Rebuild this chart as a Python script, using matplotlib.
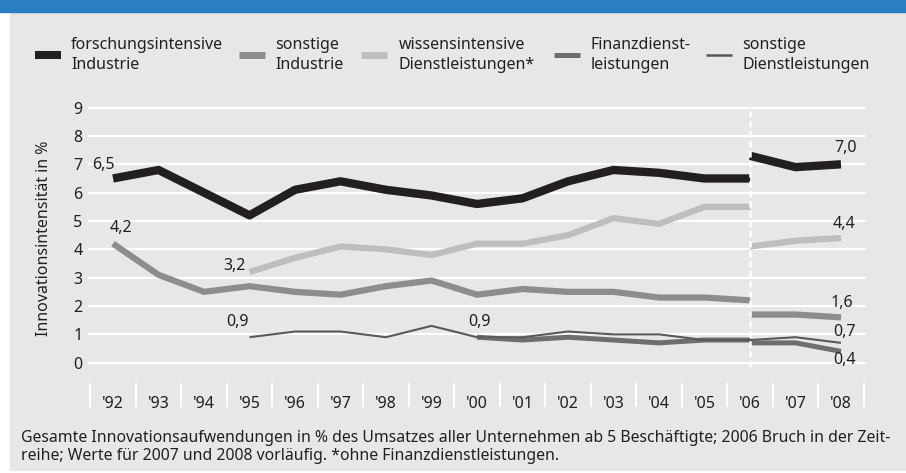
import matplotlib
matplotlib.use('Agg')
import matplotlib.pyplot as plt
from matplotlib.lines import Line2D
from matplotlib.patches import Rectangle
from matplotlib import font_manager

# data
years = ["'92", "'93", "'94", "'95", "'96", "'97", "'98", "'99", "'00",
         "'01", "'02", "'03", "'04", "'05", "'06", "'07", "'08"]

forsch_a = [6.5, 6.8, 6.0, 5.2, 6.1, 6.4, 6.1, 5.9, 5.6, 5.8, 6.4, 6.8, 6.7, 6.5, 6.5]  # '92-'06
forsch_b = [7.3, 6.9, 7.0]                                                              # '06-'08
sonst_ind_a = [4.2, 3.1, 2.5, 2.7, 2.5, 2.4, 2.7, 2.9, 2.4, 2.6, 2.5, 2.5, 2.3, 2.3, 2.2]
sonst_ind_b = [1.7, 1.7, 1.6]
wissen_a = [3.2, 3.7, 4.1, 4.0, 3.8, 4.2, 4.2, 4.5, 5.1, 4.9, 5.5, 5.5]                 # '95-'06
wissen_b = [4.1, 4.3, 4.4]
finanz_a = [0.9, 0.8, 0.9, 0.8, 0.7, 0.8, 0.8]                                          # '00-'06
finanz_b = [0.7, 0.7, 0.4]
sonst_dl = [0.9, 1.1, 1.1, 0.9, 1.3, 0.9, 0.9, 1.1, 1.0, 1.0, 0.8, 0.8, 0.9, 0.7]       # '95-'08

legend_labels = ['forschungsintensive\nIndustrie', 'sonstige\nIndustrie',
                 'wissensintensive\nDienstleistungen*', 'Finanzdienst-\nleistungen',
                 'sonstige\nDienstleistungen']

# value labels: (x index, y position, text)
value_labels = [(-0.2, 6.98, '6,5'), (0.17, 4.75, '4,2'), (2.66, 3.42, '3,2'),
                (2.73, 1.45, '0,9'), (8.06, 1.45, '0,9'), (16.1, 7.57, '7,0'),
                (16.07, 4.89, '4,4'), (16.02, 2.12, '1,6'), (16.07, 1.09, '0,7'),
                (16.07, 0.1, '0,4')]

footer = ('Gesamte Innovationsaufwendungen in % des Umsatzes aller Unternehmen ab 5 Beschäftigte; '
          '2006 Bruch in der Zeit-\nreihe; Werte für 2007 und 2008 vorläufig. *ohne Finanzdienstleistungen.')

installed = {f.name for f in font_manager.fontManager.ttflist}
main_font = 'Noto Sans' if 'Noto Sans' in installed else 'DejaVu Sans'
plt.rcParams['font.family'] = [main_font, 'DejaVu Sans']

c_black = '#231f20'
c_sind = '#8c8d8f'
c_wiss = '#bdbec0'
c_fin = '#6d6e70'
c_sdl = '#58595b'
c_bg = '#e6e7e8'
c_text = '#231f20'
fs = 11.5

W, H = 906, 473
fig = plt.figure(figsize=(W / 100, H / 100), dpi=100)


def fx(px):
    return px / W


def fy(py):
    return 1 - py / H


# background panel and blue band
fig.add_artist(Rectangle((fx(10), fy(470)), fx(W - 10), (470 - 12) / H,
                         transform=fig.transFigure, color=c_bg, zorder=0))
fig.add_artist(Rectangle((0, fy(12)), 1, 12 / H, transform=fig.transFigure,
                         color='#2a7fc3', zorder=0))

ax_l, ax_r, ax_t, ax_b = 88, 866, 106.2, 410.9
ax = fig.add_axes([fx(ax_l), fy(ax_b), (ax_r - ax_l) / W, (ax_b - ax_t) / H])
ax.set_facecolor('none')
for s in ax.spines.values():
    s.set_visible(False)
ax.set_xlim(-0.55, 16.55)
ax.set_ylim(-1.7, 9.05)

for g in range(10):
    ax.axhline(g, color='white', lw=1.5, zorder=1)
ax.set_yticks(range(10))
ax.set_yticklabels([str(g) for g in range(10)], fontsize=fs, color=c_text)
ax.tick_params(axis='y', length=0, pad=4)
ax.set_xticks([])
ax.set_ylabel('Innovationsintensität in %', fontsize=fs, color=c_text)
ax.yaxis.set_label_coords((52 - ax_l) / (ax_r - ax_l), (ax_b - 238) / (ax_b - ax_t))

# x tick separators and labels
for i in range(len(years) + 1):
    ax.plot([i - 0.5, i - 0.5], [-0.72, -1.56], color='white', lw=1.5, zorder=1,
            solid_capstyle='butt')
for i, yr in enumerate(years):
    ax.text(i, -1.45, yr, ha='center', va='center', fontsize=fs, color=c_text)

kw = dict(solid_joinstyle='round', solid_capstyle='butt', zorder=3)
ax.plot(range(0, 15), forsch_a, color=c_black, lw=6, **kw)
ax.plot(range(14, 17), forsch_b, color=c_black, lw=6, **kw)
ax.plot(range(0, 15), sonst_ind_a, color=c_sind, lw=4.5, **kw)
ax.plot(range(14, 17), sonst_ind_b, color=c_sind, lw=4.5, **kw)
ax.plot(range(3, 15), wissen_a, color=c_wiss, lw=4.5, **kw)
ax.plot(range(14, 17), wissen_b, color=c_wiss, lw=4.5, **kw)
ax.plot(range(8, 15), finanz_a, color=c_fin, lw=3.6, **kw)
ax.plot(range(14, 17), finanz_b, color=c_fin, lw=3.6, **kw)
ax.plot(range(3, 17), sonst_dl, color=c_sdl, lw=1.5, **kw)

# break in time series
ax.plot([14, 14], [-0.15, 9.0], color='white', lw=1.8, ls=(0, (2.5, 1.5)), zorder=5)

for x, y, t in value_labels:
    ax.text(x, y, t, ha='center', va='center', fontsize=fs, color=c_text, zorder=6)

# legend
leg = [(35, 61, c_black, 5.8, 71), (239, 265, c_sind, 5.0, 275),
       (361, 387, c_wiss, 5.0, 399), (554, 580, c_fin, 3.6, 591),
       (706, 732, c_sdl, 1.8, 742)]
for (x0, x1, col, lw, tx), lab in zip(leg, legend_labels):
    fig.add_artist(Line2D([fx(x0), fx(x1)], [fy(55), fy(55)], color=col, lw=lw,
                          solid_capstyle='butt', transform=fig.transFigure))
    fig.text(fx(tx), fy(55), lab, ha='left', va='center', fontsize=fs,
             color=c_text, linespacing=1.3)

# footer, sized so the first line spans the same width as in the original
foot = fig.text(fx(21), fy(447), footer, ha='left', va='center', fontsize=10,
                color=c_text, linespacing=1.1)
r = fig.canvas.get_renderer()
wpx = foot.get_window_extent(renderer=r).width
foot.set_fontsize(10 * 865 / wpx)

fig.savefig('out.png', dpi=100)
